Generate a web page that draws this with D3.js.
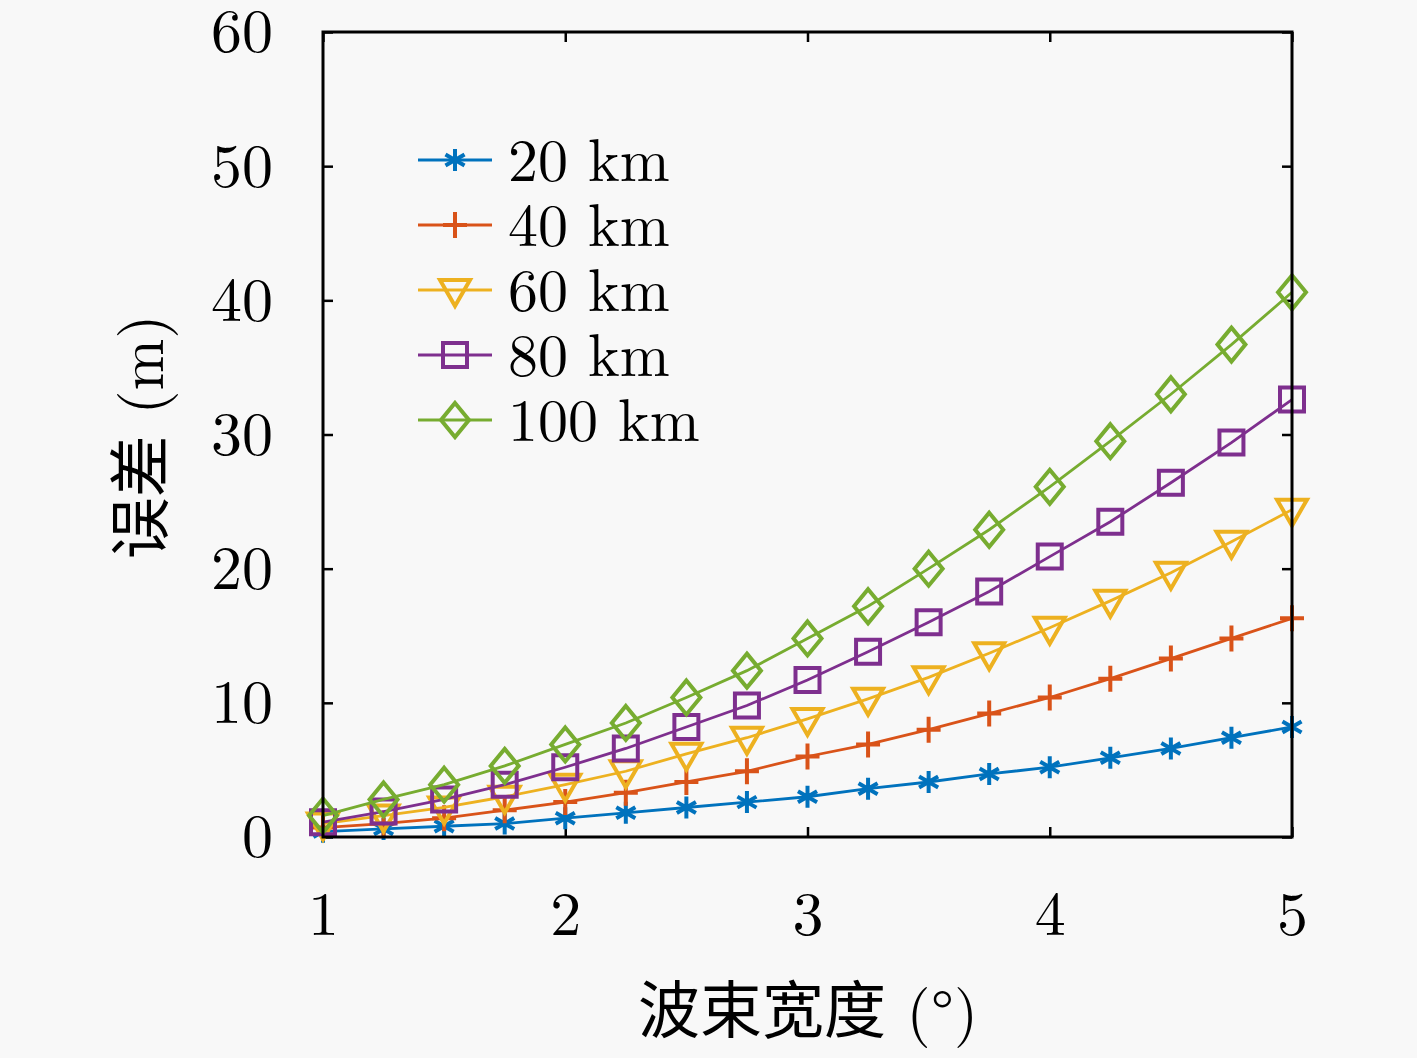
<!DOCTYPE html>
<html>
<head>
<meta charset="utf-8">
<script src="https://cdn.jsdelivr.net/npm/d3@7"></script>
<style>
  body { margin: 0; background: #f8f8f8; }
  svg { display: block; }
  .serif { font-family: "Latin Modern Roman", "CMU Serif", "Liberation Serif", serif; }
</style>
</head>
<body>
<div id="chart"></div>
<script>
// beam width (deg)
var beamWidth = [1, 1.25, 1.5, 1.75, 2, 2.25, 2.5, 2.75, 3, 3.25, 3.5, 3.75, 4, 4.25, 4.5, 4.75, 5];

// error (m) per range
var err20  = [0.4, 0.6, 0.8, 1.0, 1.4, 1.8, 2.2, 2.6, 3.0, 3.6, 4.1, 4.7, 5.2, 5.9, 6.6, 7.4, 8.2];
var err40  = [0.7, 1.0, 1.4, 2.0, 2.6, 3.3, 4.1, 4.9, 6.0, 6.9, 8.0, 9.2, 10.4, 11.8, 13.3, 14.8, 16.3];
var err60  = [1.0, 1.6, 2.2, 3.0, 3.9, 4.9, 6.2, 7.4, 8.8, 10.3, 11.9, 13.7, 15.6, 17.6, 19.7, 22.0, 24.4];
var err80  = [1.1, 1.9, 2.8, 3.9, 5.2, 6.6, 8.2, 9.8, 11.7, 13.8, 16.0, 18.3, 20.9, 23.5, 26.4, 29.4, 32.6];
var err100 = [1.6, 2.8, 3.9, 5.3, 6.9, 8.5, 10.4, 12.4, 14.8, 17.2, 20.0, 22.9, 26.1, 29.5, 33.0, 36.7, 40.6];

var seriesNames = ["20 km", "40 km", "60 km", "80 km", "100 km"];
var xTicks = [1, 2, 3, 4, 5];
var yTicks = [0, 10, 20, 30, 40, 50, 60];

var W = 1417, H = 1058;
var m = {top: 32, right: 125, bottom: 221, left: 323}
    , w = W - m.left - m.right
    , h = H - m.top - m.bottom;

var colors = ["#0072BD", "#D95319", "#EDB120", "#7E2F8E", "#77AC30"];
var markers = ["asterisk", "plus", "tridown", "square", "diamond"];
var serifFont = '"Latin Modern Roman", "CMU Serif", "Liberation Serif", serif';

// marker path at (0,0)
function markerPath(type) {
    var p = d3.path();
    if (type == "asterisk") {
        var r = 11, t = r / 2, u = t * Math.sqrt(3);
        p.moveTo(0, -r); p.lineTo(0, r);
        p.moveTo(-u, -t); p.lineTo(u, t);
        p.moveTo(-u, t); p.lineTo(u, -t);
    } else if (type == "plus") {
        p.moveTo(-12, 0); p.lineTo(12, 0);
        p.moveTo(0, -13); p.lineTo(0, 13);
    } else if (type == "tridown") {
        p.moveTo(-15, -10); p.lineTo(15, -10); p.lineTo(0, 16); p.closePath();
    } else if (type == "square") {
        p.rect(-12, -12, 24, 24);
    } else if (type == "diamond") {
        p.moveTo(0, -17); p.lineTo(14, 0); p.lineTo(0, 17); p.lineTo(-14, 0); p.closePath();
    }
    return p.toString();
}

var series = [err20, err40, err60, err80, err100].map(function(vals, i) {
    return {
        name: seriesNames[i],
        color: colors[i],
        marker: markers[i],
        values: vals.map(function(v, j) { return {x: beamWidth[j], y: v}; })
    };
});

var svg = d3.select("#chart").append("svg")
    .attr("width", W)
    .attr("height", H);

svg.append("rect").attr("width", W).attr("height", H).attr("fill", "#f8f8f8");

var g = svg.append("g")
    .attr("transform", "translate(" + m.left + "," + m.top + ")");

//Scales
var x = d3.scaleLinear().domain([1, 5]).range([0, w]);
var y = d3.scaleLinear().domain([0, 60]).range([h, 0]);

//Axes (ticks pointing inward)
var fontSize = 62;

var xAxis = g.append("g")
    .attr("transform", "translate(0," + h + ")")
    .call(d3.axisBottom(x).tickValues(xTicks).tickSizeInner(-10).tickSizeOuter(0).tickPadding(54).tickFormat(d3.format("d")));

var xAxisTop = g.append("g")
    .call(d3.axisTop(x).tickValues(xTicks).tickSizeInner(-10).tickSizeOuter(0).tickFormat(""));

var yAxis = g.append("g")
    .call(d3.axisLeft(y).tickValues(yTicks).tickSizeInner(-10).tickSizeOuter(0).tickPadding(50).tickFormat(d3.format("d")));

var yAxisRight = g.append("g")
    .attr("transform", "translate(" + w + ",0)")
    .call(d3.axisRight(y).tickValues(yTicks).tickSizeInner(-10).tickSizeOuter(0).tickFormat(""));

[xAxis, xAxisTop, yAxis, yAxisRight].forEach(function(a) {
    a.select(".domain").remove();
    a.selectAll(".tick line").attr("stroke", "#000").attr("stroke-width", 2.5);
    a.selectAll(".tick text")
        .attr("fill", "#000")
        .style("font-family", serifFont)
        .style("font-size", fontSize + "px");
});

//Draw lines and markers
var line = d3.line()
    .x(function(d) { return x(d.x); })
    .y(function(d) { return y(d.y); });

var sg = g.selectAll(".series")
    .data(series)
    .enter().append("g")
    .attr("class", "series");

sg.append("path")
    .attr("fill", "none")
    .attr("stroke", function(d) { return d.color; })
    .attr("stroke-width", 2.8)
    .attr("d", function(d) { return line(d.values); });

sg.each(function(s) {
    d3.select(this).selectAll(".mk")
        .data(s.values)
        .enter().append("path")
        .attr("class", "mk")
        .attr("transform", function(d) { return "translate(" + x(d.x) + "," + y(d.y) + ")"; })
        .attr("d", markerPath(s.marker))
        .attr("fill", "none")
        .attr("stroke", s.color)
        .attr("stroke-width", 4);
});

//Box
g.append("rect")
    .attr("width", w)
    .attr("height", h)
    .attr("fill", "none")
    .attr("stroke", "#000")
    .attr("stroke-width", 3);

//Legend
var legend = g.append("g")
    .attr("transform", "translate(" + (418 - m.left) + "," + (160 - m.top) + ")");

var item = legend.selectAll(".item")
    .data(series)
    .enter().append("g")
    .attr("class", "item")
    .attr("transform", function(d, i) { return "translate(0," + (i * 65) + ")"; });

item.append("line")
    .attr("x1", 0).attr("x2", 74)
    .attr("stroke", function(d) { return d.color; })
    .attr("stroke-width", 2.8);

item.append("path")
    .attr("transform", "translate(37,0)")
    .attr("d", function(d) { return markerPath(d.marker); })
    .attr("fill", "none")
    .attr("stroke", function(d) { return d.color; })
    .attr("stroke-width", 4);

item.append("text")
    .attr("x", 90)
    .attr("y", 21)
    .style("font-family", serifFont)
    .style("font-size", "60px")
    .text(function(d) { return d.name; });

// text label for the x axis
var xl = svg.append("text")
    .attr("x", 808)
    .attr("y", 1033)
    .style("text-anchor", "middle")
    .style("font-size", "62px");
xl.append("tspan").style("font-family", '"Noto Sans CJK SC", sans-serif').text("波束宽度");
xl.append("tspan").style("font-family", serifFont).text(" (°)");

// text label for the y axis
var yl = svg.append("text")
    .attr("transform", "translate(163,437) rotate(-90)")
    .style("text-anchor", "middle")
    .style("font-size", "62px");
yl.append("tspan").style("font-family", '"Noto Sans CJK SC", sans-serif').text("误差");
yl.append("tspan").style("font-family", serifFont).text(" (m)");
</script>
</body>
</html>
